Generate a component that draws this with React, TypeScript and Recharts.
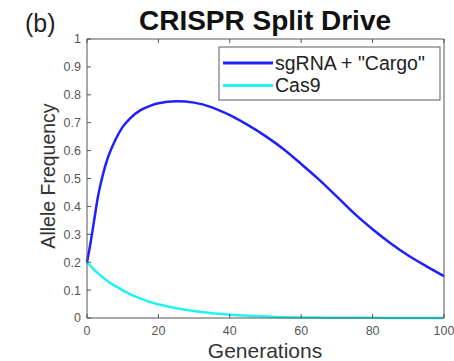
import React from "react";
import { LineChart, Line, XAxis, YAxis } from "recharts";

const generations = [0, 1, 2, 3, 4, 5, 6, 8, 10, 12, 15, 18, 20, 25, 30, 35, 40, 45, 50, 55, 60, 65, 70, 75, 80, 85, 90, 95, 100];
const sgRNACargo = [0.2, 0.27, 0.35, 0.43, 0.49, 0.54, 0.58, 0.64, 0.685, 0.715, 0.745, 0.762, 0.77, 0.777, 0.772, 0.755, 0.727, 0.692, 0.652, 0.606, 0.552, 0.496, 0.435, 0.373, 0.318, 0.268, 0.224, 0.186, 0.15];
const cas9 = [0.2, 0.186, 0.173, 0.161, 0.15, 0.14, 0.13, 0.114, 0.099, 0.086, 0.07, 0.056, 0.049, 0.035, 0.025, 0.017, 0.012, 0.008, 0.005, 0.003, 0.002, 0.0015, 0.001, 0.0007, 0.0005, 0.0004, 0.0003, 0.0002, 0.0002];
const xTicks = [0, 20, 40, 60, 80, 100];
const yTicks = [0, 0.1, 0.2, 0.3, 0.4, 0.5, 0.6, 0.7, 0.8, 0.9, 1];
const seriesNames = ['sgRNA + "Cargo"', "Cas9"];
const seriesColors = ["#1f1fff", "#22f2f2"];

const data = generations.map((g, i) => ({ gen: g, sg: sgRNACargo[i], cas: cas9[i] }));

const FONT = "'Liberation Sans', Arial, sans-serif";
const AXIS = "#555555";
const tickStyle = { fill: "#555555", fontSize: 12.5, fontFamily: FONT };

const LegendBox = () => (
  <g>
    <rect x={219} y={47} width={221} height={53} fill="#ffffff" stroke="#777777" strokeWidth={1.2} />
    {seriesNames.map((n, i) => (
      <g key={n}>
        <line x1={223} x2={273} y1={63 + i * 22.5} y2={63 + i * 22.5} stroke={seriesColors[i]} strokeWidth={3} />
        <text x={275} y={63 + i * 22.5} dy="0.35em" fontSize={19.5} fontFamily={FONT} fill="#222">
          {n}
        </text>
      </g>
    ))}
  </g>
);

export default function App() {
  return (
    <div style={{ position: "absolute", left: 0, top: 0, width: 454, height: 361, background: "#fff" }}>
      <LineChart width={454} height={361} data={data} margin={{ top: 38, right: 9, left: 0, bottom: 0 }}>
        <XAxis
          xAxisId="b"
          dataKey="gen"
          type="number"
          domain={[0, 100]}
          ticks={xTicks}
          height={43}
          stroke={AXIS}
          tickSize={-4}
          tickMargin={12}
          tick={tickStyle}
          interval={0}
        />
        <XAxis
          xAxisId="t"
          dataKey="gen"
          type="number"
          orientation="top"
          domain={[0, 100]}
          ticks={xTicks}
          height={1}
          stroke={AXIS}
          tickSize={-4}
          tickFormatter={() => ""}
          interval={0}
        />
        <YAxis
          yAxisId="l"
          type="number"
          domain={[0, 1]}
          ticks={yTicks}
          width={87}
          stroke={AXIS}
          tickSize={-4}
          tickMargin={10}
          tick={tickStyle}
          interval={0}
        />
        <YAxis
          yAxisId="r"
          type="number"
          orientation="right"
          domain={[0, 1]}
          ticks={yTicks}
          width={1}
          stroke={AXIS}
          tickSize={-4}
          tickFormatter={() => ""}
          interval={0}
        />
        <Line xAxisId="b" yAxisId="l" type="monotone" dataKey="sg" stroke={seriesColors[0]} strokeWidth={2.5} dot={false} isAnimationActive={false} />
        <Line xAxisId="b" yAxisId="l" type="monotone" dataKey="cas" stroke={seriesColors[1]} strokeWidth={2.5} dot={false} isAnimationActive={false} />
        <text x={265} y={30} textAnchor="middle" fontSize={28} fontWeight="bold" fontFamily={FONT} fill="#111">
          CRISPR Split Drive
        </text>
        <text x={25} y={32} fontSize={25} fontFamily={FONT} fill="#222">
          (b)
        </text>
        <text x={265} y={358} textAnchor="middle" fontSize={21} fontFamily={FONT} fill="#333">
          Generations
        </text>
        <text transform="translate(55,176) rotate(-90)" textAnchor="middle" fontSize={19.5} fontFamily={FONT} fill="#333">
          Allele Frequency
        </text>
        <LegendBox />
      </LineChart>
    </div>
  );
}
